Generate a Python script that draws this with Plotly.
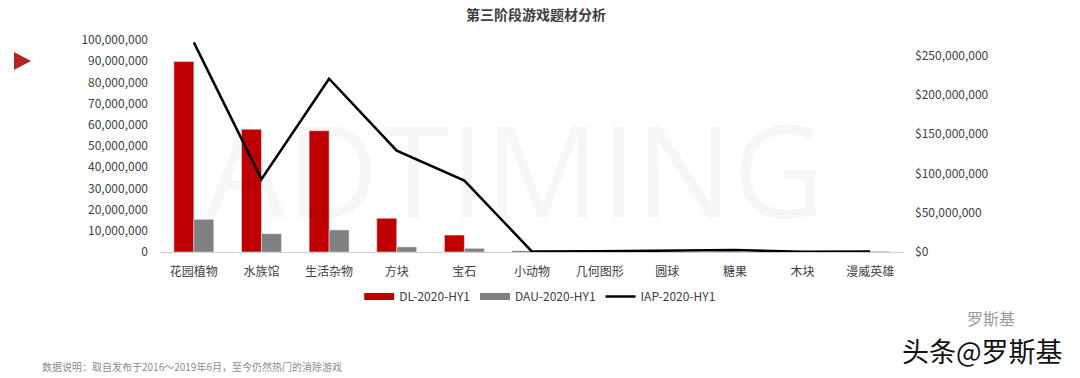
import plotly.graph_objects as go

categories = ["花园植物", "水族馆", "生活杂物", "方块", "宝石", "小动物",
              "几何图形", "圆球", "糖果", "木块", "漫威英雄"]
dl_values = [89.8e6, 57.9e6, 57.2e6, 15.9e6, 8.0e6, 0.5e6, 0.05e6, 0.05e6, 0.1e6, 0.05e6, 0.1e6]
dau_values = [15.4e6, 8.6e6, 10.4e6, 2.4e6, 1.7e6, 0.1e6, 0.02e6, 0.02e6, 0.05e6, 0.02e6, 0.3e6]
iap_values = [267e6, 92.7e6, 220.7e6, 129e6, 91e6, 0.5e6, 1.0e6, 1.5e6, 2.5e6, 0.3e6, 0.5e6]
left_ticks = [0, 10e6, 20e6, 30e6, 40e6, 50e6, 60e6, 70e6, 80e6, 90e6, 100e6]
right_ticks = [0, 50e6, 100e6, 150e6, 200e6, 250e6]

FONT = "Noto Sans CJK SC"
TXT = "#404040"
RED = "#C00000"
GRAY = "#808080"

fig = go.Figure()
fig.add_trace(go.Bar(x=categories, y=dl_values, name="DL-2020-HY1",
                     marker_color=RED, yaxis="y", showlegend=False))
fig.add_trace(go.Bar(x=categories, y=dau_values, name="DAU-2020-HY1",
                     marker_color=GRAY, yaxis="y", showlegend=False))
fig.add_trace(go.Scatter(x=categories, y=iap_values, name="IAP-2020-HY1",
                         mode="lines", line=dict(color="black", width=2.5),
                         yaxis="y2", showlegend=False))
# legend entries (wide swatches like the original)
for name, color, w in [("DL-2020-HY1", RED, 7), ("DAU-2020-HY1", GRAY, 7),
                       ("IAP-2020-HY1", "black", 2.5)]:
    fig.add_trace(go.Scatter(x=[None], y=[None], name=name, mode="lines",
                             line=dict(color=color, width=w), showlegend=True))

fig.update_layout(
    width=1080, height=378,
    margin=dict(l=160, r=176, t=40, b=126),
    paper_bgcolor="white", plot_bgcolor="rgba(0,0,0,0)",
    font=dict(family=FONT, size=12, color=TXT),
    barmode="group", bargap=0.41, bargroupgap=0,
    showlegend=True,
    legend=dict(orientation="h", x=0.511, xanchor="center", y=-0.21, yanchor="middle",
                font=dict(size=12, color=TXT), traceorder="normal",
                itemwidth=30, bgcolor="rgba(0,0,0,0)"),
    xaxis=dict(showgrid=False, showline=True, linecolor="#d0d0d0", linewidth=1,
               ticks="", tickfont=dict(size=12, color=TXT), ticklabelstandoff=9,
               tickangle=0),
    yaxis=dict(range=[0, 100e6], tickvals=left_ticks, tickformat=",d",
               showgrid=False, zeroline=False, showline=False, ticks="",
               tickfont=dict(size=12, color=TXT), ticklabelstandoff=11),
    yaxis2=dict(range=[0, 270e6], tickvals=right_ticks, tickformat="$,d",
                overlaying="y", side="right",
                showgrid=False, zeroline=False, showline=False, ticks="",
                tickfont=dict(size=12, color=TXT), ticklabelstandoff=10),
)

pw, ph = 1080 - 160 - 176, 378 - 40 - 126

def px(xp, yp):
    return (xp - 160) / pw, (378 - 126 - yp) / ph

annotations = [
    dict(text="<b>第三阶段游戏题材分析</b>", x=536, y=14,
         font=dict(size=14, color=TXT, family=FONT)),
    dict(text="数据说明：取自发布于2016～2019年6月，至今仍然热门的消除游戏",
         x=40, y=366, xanchor="left",
         font=dict(size=10, color="#8c8c8c", family=FONT)),
    dict(text="ADTIMING", x=515, y=168,
         font=dict(size=128, color="rgba(0,0,0,0.03)", family="Open Sans")),
    dict(text="罗斯基", x=965, y=318, xanchor="left",
         font=dict(size=16, color="#9a9a9a", family=FONT)),
    dict(text="头条@罗斯基", x=900, y=350, xanchor="left",
         font=dict(size=27, color="#111111", family=FONT)),
]
for a in annotations:
    a["x"], a["y"] = px(a["x"], a["y"])
    a["xref"] = "paper"
    a["yref"] = "paper"
    a["showarrow"] = False
    a.setdefault("yanchor", "middle")
fig.update_layout(annotations=annotations)

x0, y0 = px(14, 52); x1, y1 = px(31, 61); x2, y2 = px(14, 70)
fig.add_shape(type="path", xref="paper", yref="paper",
              path=f"M {x0} {y0} L {x1} {y1} L {x2} {y2} Z",
              fillcolor="#B52424", line=dict(width=0))

fig.write_html("out.html")
